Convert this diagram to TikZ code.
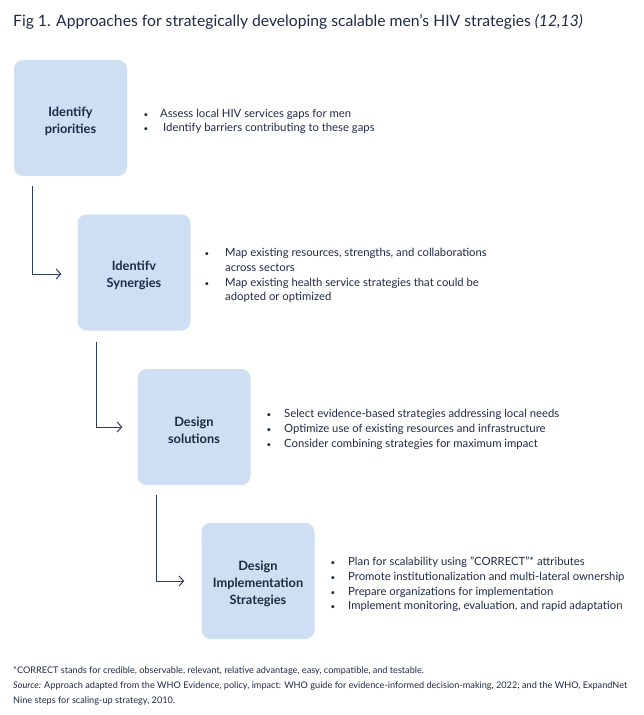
\documentclass[tikz,border=0pt]{standalone}
\usepackage{fontspec}
\setmainfont{Lato}
\usetikzlibrary{arrows.meta}
\definecolor{boxfill}{HTML}{CEDEF3}
\definecolor{ink}{HTML}{1E2A45}
\definecolor{conncol}{HTML}{2E3A5E}
\tikzset{
  stepbox/.style={fill=boxfill, rounded corners=9pt, minimum width=113pt, minimum height=116pt, inner sep=0pt},
  boxlabel/.style={inner sep=0pt, text=ink, font=\fontsize{12.8}{17}\selectfont\bfseries, align=center},
  bul/.style={anchor=base west, inner sep=0pt, text=ink, font=\fontsize{11.3}{15}\selectfont},
  dot/.style={anchor=base, inner sep=0pt, text=ink, font=\fontsize{8}{15}\selectfont},
  conn/.style={draw=conncol, line width=1pt, -{Straight Barb[length=4.5pt,width=10pt,line width=1pt]}},
  foot/.style={anchor=base west, inner sep=0pt, text=ink, font=\fontsize{9.15}{15}\selectfont},
}
\begin{document}
\begin{tikzpicture}[x=1pt,y=-1pt]
\useasboundingbox (0,0) rectangle (644,715);
\node[anchor=base west, inner sep=0pt, text=ink, font=\fontsize{15.7}{18}\selectfont] (title) at (13,26) {Fig 1. Approaches for strategically developing scalable men’s HIV strategies \textit{(12,13)}};

\node[stepbox] (b1) at (70.5,118) {};
\node[stepbox] (b2) at (134,272.5) {};
\node[stepbox] (b3) at (194,427) {};
\node[stepbox] (b4) at (258,581) {};

\node[boxlabel] (l1) at ([yshift=-3pt]b1.center) {Identify\\priorities};
\node[boxlabel] (l2) at ([yshift=-3pt]b2.center) {Identifv\\Synergies};
\node[boxlabel] (l3) at ([yshift=-3pt]b3.center) {Design\\solutions};
\node[boxlabel] (l4) at ([yshift=-3pt]b4.center) {Design\\Implementation\\Strategies};

\draw[conn] ([xshift=19pt,yshift=-10pt]b1.south west) |- ([xshift=-16pt,yshift=-1.5pt]b2.west);
\draw[conn] ([xshift=19pt,yshift=-11pt]b2.south west) |- ([xshift=-15pt]b3.west);
\draw[conn] ([xshift=19pt,yshift=-10pt]b3.south west) |- ([xshift=-17pt]b4.west);

% box 1 bullets
\node[dot] (d11) at (146,117) {•};
\node[bul] (t11) at (160,117) {Assess local HIV services gaps for men};
\node[dot] (d12) at (146,131) {•};
\node[bul] (t12) at (163,131) {Identify barriers contributing to these gaps};

% box 2 bullets
\node[dot] (d21) at (207,256) {•};
\node[bul] (t21) at (225,256) {Map existing resources, strengths, and collaborations};
\node[bul] (t22) at (225,271) {across sectors};
\node[dot] (d22) at (207,286) {•};
\node[bul] (t23) at (225,286) {Map existing health service strategies that could be};
\node[bul] (t24) at (225,300) {adopted or optimized};

% box 3 bullets
\node[dot] (d31) at (269,417) {•};
\node[bul] (t31) at (284,417) {Select evidence-based strategies addressing local needs};
\node[dot] (d32) at (269,432) {•};
\node[bul] (t32) at (284,432) {Optimize use of existing resources and infrastructure};
\node[dot] (d33) at (269,447) {•};
\node[bul] (t33) at (284,447) {Consider combining strategies for maximum impact};

% box 4 bullets
\node[dot] (d41) at (333,565) {•};
\node[bul] (t41) at (348,565) {Plan for scalability using \symbol{34}CORRECT\symbol{34}* attributes};
\node[dot] (d42) at (333,580) {•};
\node[bul] (t42) at (348,580) {Promote institutionalization and multi-lateral ownership};
\node[dot] (d43) at (333,595) {•};
\node[bul] (t43) at (348,595) {Prepare organizations for implementation};
\node[dot] (d44) at (333,609) {•};
\node[bul] (t44) at (348,609) {Implement monitoring, evaluation, and rapid adaptation};

% footnotes
\node[foot] (f1) at (13,673) {*CORRECT stands for credible, observable, relevant, relative advantage, easy, compatible, and testable.};
\node[foot] (f2) at (13,688) {\textit{Source:} Approach adapted from the WHO Evidence, policy, impact: WHO guide for evidence-informed decision-making, 2022; and the WHO, ExpandNet};
\node[foot] (f3) at (13,703) {Nine steps for scaling-up strategy, 2010.};
\end{tikzpicture}
\end{document}
